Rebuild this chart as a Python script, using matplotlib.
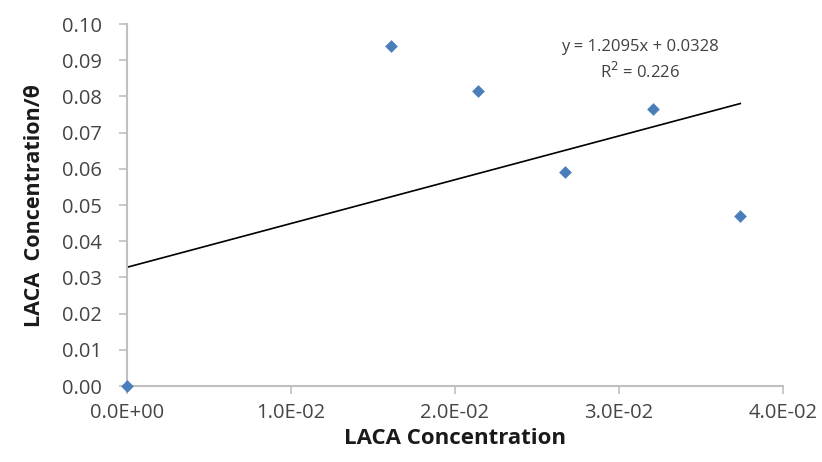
import numpy as np
import matplotlib.pyplot as plt

plt.rcParams['font.family'] = ['Open Sans', 'DejaVu Sans']

# data
laca_conc = [0.0, 0.0161, 0.0214, 0.0267, 0.0321, 0.0374]
laca_theta = [0.0, 0.0940, 0.0815, 0.0590, 0.0765, 0.0470]
slope = 1.2095
intercept = 0.0328
r2 = 0.226

grey = "#BFBFBF"
text_grey = "#454545"

fig = plt.figure(figsize=(8.22, 4.62), dpi=100)
ax = fig.add_axes([0.1545, 0.1645, 0.798, 0.7835])

xfit = np.array([laca_conc[0], laca_conc[-1]])
ax.plot(xfit, slope * xfit + intercept, color="black", lw=1.2, zorder=2)
ax.scatter(laca_conc, laca_theta, marker="D", s=42, color="#4A7EBB",
           zorder=3, clip_on=False, linewidths=0)

ax.set_xlim(0, 0.04)
ax.set_ylim(0, 0.10)
ax.set_xticks(np.arange(0, 0.0401, 0.01))
ax.set_yticks(np.arange(0, 0.1001, 0.01))
ax.set_xticklabels(["%.1E" % v for v in ax.get_xticks()])
ax.set_yticklabels(["%.2f" % v for v in ax.get_yticks()])

for s in ["top", "right"]:
    ax.spines[s].set_visible(False)
for s in ["left", "bottom"]:
    ax.spines[s].set_color(grey)
    ax.spines[s].set_linewidth(1.5)
ax.tick_params(axis="both", colors=grey, length=6, width=1.2,
               labelcolor=text_grey, labelsize=14.5)
ax.tick_params(axis="x", pad=6)
ax.tick_params(axis="y", pad=12)

ax.set_xlabel("LACA Concentration", fontsize=16, fontweight="bold",
              color="#1a1a1a", labelpad=4)
ax.set_ylabel("LACA  Concentration/θ", fontsize=15.5, fontweight="bold",
              color="#1a1a1a", labelpad=12)

ax.text(0.0313, 0.0900, "y = 1.2095x + 0.0328\nR$^2$ = %.3f" % r2,
        ha="center", va="center", fontsize=12, color="#404040", linespacing=1.45)

fig.savefig("out.png", dpi=100)
